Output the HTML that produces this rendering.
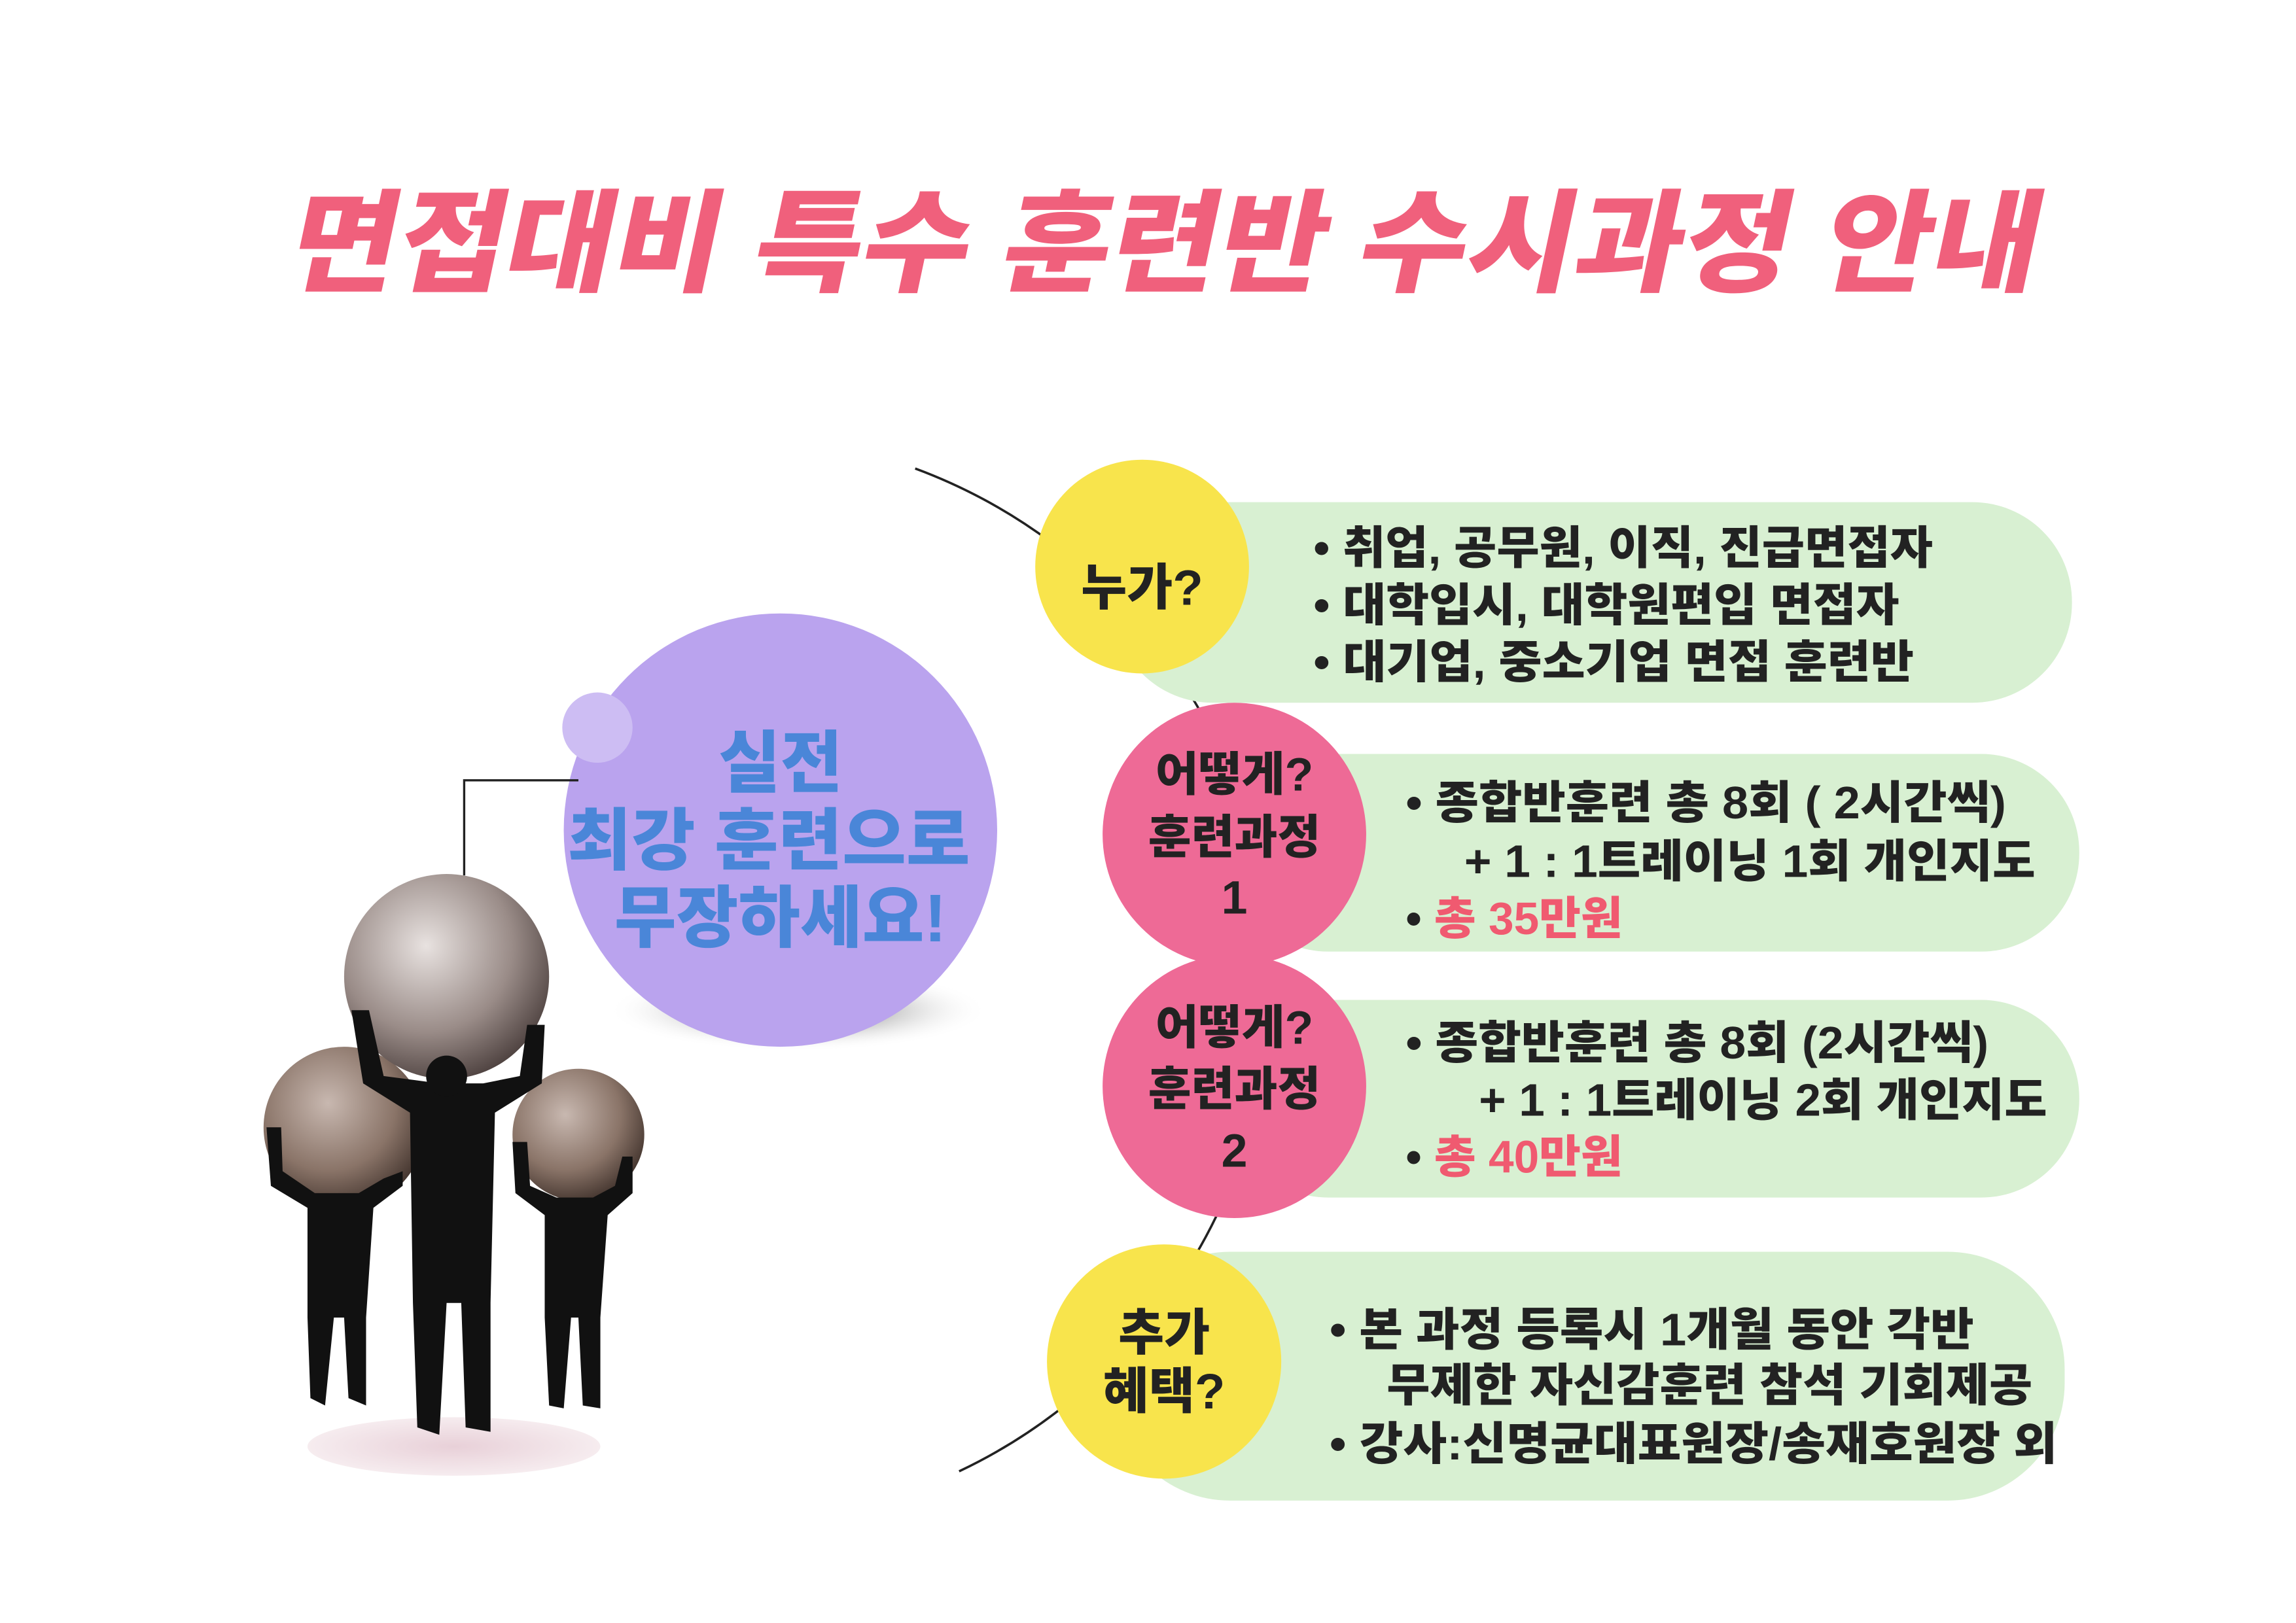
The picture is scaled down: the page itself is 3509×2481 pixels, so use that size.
<!DOCTYPE html>
<html><head><meta charset="utf-8"><style>
html,body{margin:0;padding:0;background:#fff;}
svg{display:block;}
text{font-family:"Liberation Sans","Noto Sans CJK KR",sans-serif;font-weight:900;}
</style></head><body>
<svg width="3509" height="2481" viewBox="0 0 1568 1108.6" preserveAspectRatio="none" xmlns="http://www.w3.org/2000/svg">
<defs>
<radialGradient id="sph" cx="0.4" cy="0.35" r="0.7">
<stop offset="0" stop-color="#e8e2e0"/><stop offset="0.6" stop-color="#9a8c88"/><stop offset="1" stop-color="#4a3e3c"/>
</radialGradient>
<radialGradient id="sph2" cx="0.4" cy="0.35" r="0.7">
<stop offset="0" stop-color="#c8b8b0"/><stop offset="0.6" stop-color="#8a7468"/><stop offset="1" stop-color="#3e302a"/>
</radialGradient>
<radialGradient id="shadow" cx="0.5" cy="0.5" r="0.5">
<stop offset="0" stop-color="#333"/><stop offset="1" stop-color="#fff" stop-opacity="0"/>
</radialGradient>
<radialGradient id="floor" cx="0.5" cy="0.5" r="0.5">
<stop offset="0" stop-color="#e8d0d8"/><stop offset="1" stop-color="#f6ecef"/>
</radialGradient>
</defs>
<rect width="1568" height="1109" fill="#fff"/>
<g transform="translate(0,0) skewX(-12)">
<text x="235" y="193" font-size="76" fill="#f0607c" textLength="1195" lengthAdjust="spacingAndGlyphs">면접대비 특수 훈련반 수시과정 안내</text>
</g>
<path d="M625,320 A372,372 0 0 1 655,1005" fill="none" stroke="#222" stroke-width="1.6"/>
<rect x="760" y="343" width="655" height="137" rx="68" fill="#d8f0d2"/>
<rect x="840" y="515" width="580" height="135" rx="67" fill="#d8f0d2"/>
<rect x="840" y="683" width="580" height="135" rx="67" fill="#d8f0d2"/>
<rect x="760" y="855" width="650" height="170" rx="80" fill="#d8f0d2"/>
<circle cx="780" cy="387" r="73" fill="#f8e44c"/>
<circle cx="843" cy="570" r="90" fill="#ee6a96"/>
<circle cx="843" cy="742" r="90" fill="#ee6a96"/>
<circle cx="795" cy="930" r="80" fill="#f8e44c"/>
<text x="780" y="413" font-size="34" text-anchor="middle" fill="#222">누가?</text>
<text x="843" y="540" font-size="32" text-anchor="middle" fill="#222">어떻게?</text>
<text x="843" y="583" font-size="32" text-anchor="middle" fill="#222">훈련과정</text>
<text x="843" y="624" font-size="32" text-anchor="middle" fill="#222">1</text>
<text x="843" y="713" font-size="32" text-anchor="middle" fill="#222">어떻게?</text>
<text x="843" y="755" font-size="32" text-anchor="middle" fill="#222">훈련과정</text>
<text x="843" y="797" font-size="32" text-anchor="middle" fill="#222">2</text>
<text x="795" y="922" font-size="34" text-anchor="middle" fill="#222">추가</text>
<text x="795" y="962" font-size="34" text-anchor="middle" fill="#222">혜택?</text>
<g font-size="31" fill="#222">
<text x="897" y="385" textLength="423" lengthAdjust="spacingAndGlyphs">• 취업, 공무원, 이직, 진급면접자</text>
<text x="897" y="424" textLength="400" lengthAdjust="spacingAndGlyphs">• 대학입시, 대학원편입 면접자</text>
<text x="897" y="463" textLength="410" lengthAdjust="spacingAndGlyphs">• 대기업, 중소기업 면접 훈련반</text>
<text x="960" y="559" textLength="410" lengthAdjust="spacingAndGlyphs">• 종합반훈련 총 8회 ( 2시간씩)</text>
<text x="1000" y="599" textLength="390" lengthAdjust="spacingAndGlyphs">+ 1 : 1트레이닝 1회 개인지도</text>
<text x="960" y="638">• <tspan fill="#f05a70">총 35만원</tspan></text>
<text x="960" y="723" textLength="398" lengthAdjust="spacingAndGlyphs">• 종합반훈련 총 8회 (2시간씩)</text>
<text x="1010" y="762" textLength="388" lengthAdjust="spacingAndGlyphs">+ 1 : 1트레이닝 2회 개인지도</text>
<text x="960" y="801">• <tspan fill="#f05a70">총 40만원</tspan></text>
<text x="908" y="919" textLength="440" lengthAdjust="spacingAndGlyphs">• 본 과정 등록시 1개월 동안 각반</text>
<text x="947" y="957" textLength="441" lengthAdjust="spacingAndGlyphs">무제한 자신감훈련 참석 기회제공</text>
<text x="908" y="997" textLength="497" lengthAdjust="spacingAndGlyphs">• 강사:신명균대표원장/송재호원장  외</text>
</g>
<ellipse cx="545" cy="690" rx="130" ry="28" fill="url(#shadow)"/>
<circle cx="533" cy="567" r="148" fill="#baa3ee"/>
<circle cx="408" cy="497" r="24" fill="#cdbdf3"/>
<g font-size="46" fill="#4a86d8" text-anchor="middle">
<text x="533" y="537">실전</text>
<text x="525" y="590" textLength="275" lengthAdjust="spacingAndGlyphs">최강 훈련으로</text>
<text x="533" y="643">무장하세요!</text>
</g>
<path d="M317,598 V533 H395" fill="none" stroke="#222" stroke-width="1.5"/>
<ellipse cx="310" cy="988" rx="100" ry="20" fill="url(#floor)"/>
<circle cx="235" cy="770" r="55" fill="url(#sph2)"/>
<circle cx="395" cy="775" r="45" fill="url(#sph2)"/>
<circle cx="305" cy="667" r="70" fill="url(#sph)"/>
<g fill="#111">
<path d="M240,690 L248,740 L280,760 L282,890 L285,975 L300,980 L305,890 L315,890 L318,975 L335,978 L335,890 L338,760 L370,740 L372,700 L360,700 L355,735 L330,740 L300,740 L262,735 L252,690 Z"/>
<circle cx="305" cy="735" r="14"/>
<path d="M182,770 L185,810 L210,825 L210,900 L212,955 L222,960 L228,900 L235,900 L238,955 L250,960 L250,900 L255,825 L275,810 L275,800 L262,805 L245,815 L215,815 L193,800 L192,770 Z"/>
<path d="M350,780 L352,815 L372,830 L372,900 L375,960 L385,962 L390,900 L395,900 L398,960 L410,962 L410,900 L415,830 L432,815 L432,790 L425,790 L420,810 L405,818 L380,818 L362,810 L360,780 Z"/>
</g>
</svg>
</body></html>
